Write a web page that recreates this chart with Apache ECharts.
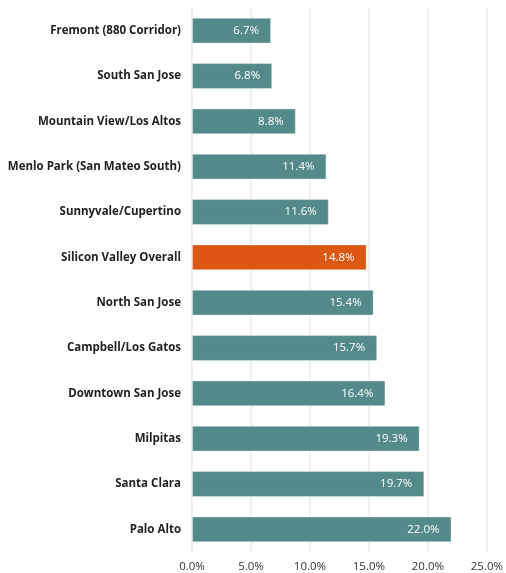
<!DOCTYPE html>
<html>
<head>
<meta charset="utf-8">
<script src="https://cdn.jsdelivr.net/npm/echarts@6/dist/echarts.min.js"></script>
<style>html,body{margin:0;padding:0;background:#fff;}#c{width:506px;height:573px;}</style>
</head>
<body>
<div id="c"></div>
<script>
const categories = ["Fremont (880 Corridor)","South San Jose","Mountain View/Los Altos","Menlo Park (San Mateo South)","Sunnyvale/Cupertino","Silicon Valley Overall","North San Jose","Campbell/Los Gatos","Downtown San Jose","Milpitas","Santa Clara","Palo Alto"];
const values = [6.7,6.8,8.8,11.4,11.6,14.8,15.4,15.7,16.4,19.3,19.7,22.0];
const highlight = "Silicon Valley Overall";
const xTicks = {min:0, max:25, interval:5};

const chart = echarts.init(document.getElementById('c'), null, {renderer:'canvas'});
const font = "'Open Sans', sans-serif";
chart.setOption({
  animation:false,
  grid:{left:192, right:15, top:8, bottom:21, containLabel:false},
  xAxis:{type:'value', min:xTicks.min, max:xTicks.max, interval:xTicks.interval,
    axisLine:{show:false}, axisTick:{show:false},
    splitLine:{lineStyle:{color:'#ebebeb', width:1.5}},
    axisLabel:{formatter:v=>v.toFixed(1)+'%', color:'#333', fontSize:11.5, fontFamily:font, margin:9}},
  yAxis:{type:'category', data:categories, inverse:true,
    axisLine:{show:false}, axisTick:{show:false},
    axisLabel:{color:'#222', fontSize:11.5, fontWeight:'bold', fontFamily:font, margin:11}},
  series:[{type:'bar', barCategoryGap:'43%',
    data:values.map((v,i)=>({value:v, itemStyle:{color: categories[i]===highlight ? '#dc5714' : '#558a8a'}})),
    itemStyle:{borderColor:'rgba(255,255,255,0.35)', borderWidth:1},
    label:{show:true, position:'insideRight', distance:12, color:'#fff', fontSize:11.5, fontFamily:font,
      formatter:p=>p.value.toFixed(1)+'%'}}]
});
</script>
</body>
</html>
